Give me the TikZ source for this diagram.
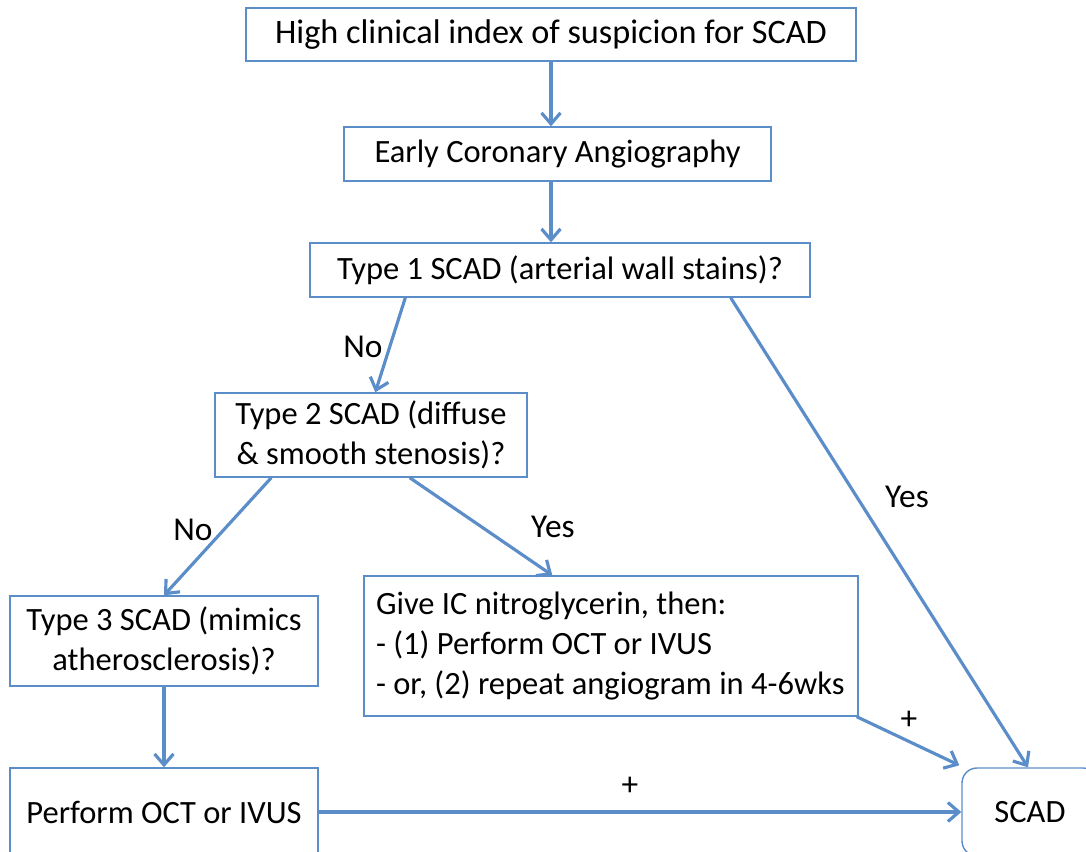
\documentclass[tikz,border=0pt]{standalone}
\usepackage{fontspec}
\setmainfont{Carlito}
\usepackage{tikz}
\usetikzlibrary{arrows.meta,positioning}
\definecolor{boxblue}{RGB}{91,141,201}
\tikzset{
  flowbox/.style={draw=boxblue, line width=0.8pt, inner sep=0pt, align=center, font=\fontsize{18.5}{22.5}\selectfont},
  flow/.style={draw=boxblue, line width=1.8pt, -{Straight Barb[length=0.22cm,width=0.38cm]}},
  lbl/.style={inner sep=0pt, font=\fontsize{19}{22}\selectfont}}

\begin{document}
\begin{tikzpicture}[x=0.02cm,y=-0.02cm]
\useasboundingbox (0,0) rectangle (1086,852);
\clip (0,0) rectangle (1086,852);
% boxes
\node[flowbox, font=\fontsize{19.5}{22.5}\selectfont, minimum width=12.2cm, minimum height=1.06cm] (high) at (551,34.5) {High clinical index of suspicion for SCAD};
\node[flowbox, minimum width=8.54cm, minimum height=1.08cm] (early) at (557.5,154) {Early Coronary Angiography};
\node[flowbox, minimum width=10cm, minimum height=1.08cm] (type1) at (560,270) {Type 1 SCAD (arterial wall stains)?};
\node[flowbox, minimum width=6.24cm, minimum height=1.68cm] (type2) at (371,435) {Type 2 SCAD (diffuse\\ \& smooth stenosis)?};
\node[flowbox, minimum width=6.16cm, minimum height=1.8cm] (type3) at (164,641) {Type 3 SCAD (mimics\\ atherosclerosis)?};
\node[flowbox, align=flush left, text width=9.4cm, minimum width=9.88cm, minimum height=2.8cm] (give) at (611,646) {Give IC nitroglycerin, then:\\- (1) Perform OCT or IVUS\\- or, (2) repeat angiogram in 4-6wks};
\node[flowbox, minimum width=6.16cm, minimum height=1.76cm] (perform) at (164,812) {Perform OCT or IVUS};
\node[flowbox, rounded corners=0.3cm, minimum width=2.72cm, minimum height=1.76cm] (scad) at (1030,812) {SCAD};

% connectors
\draw[flow] (high.south) -- (high.south |- early.north);
\draw[flow] (high.south |- early.south) -- (high.south |- type1.north);
\draw[flow] ([xshift=1.92cm]type1.south west) -- ([xshift=3.22cm]type2.north west);
\draw[flow] ([xshift=-1.6cm]type1.south east) -- ([xshift=-0.04cm]scad.north);
\draw[flow] ([xshift=1.14cm]type2.south west) -- (type3.north);
\draw[flow] ([xshift=-2.36cm]type2.south east) -- ([xshift=3.78cm]give.north west);
\draw[flow] (type3.south) -- (perform.north);
\draw[flow] ([xshift=-0.04cm]give.south east) -- ([xshift=-0.04cm,yshift=0.04cm]scad.north west);
\draw[flow] (perform.east) -- (scad.west);

% labels
\node[lbl] (no1) at (363,347) {No};
\node[lbl] (yes1) at (907,497) {Yes};
\node[lbl] (no2) at (193,530) {No};
\node[lbl] (yes2) at (553,527) {Yes};
\node[lbl] (plus1) at (909,720) {+};
\node[lbl] (plus2) at (630,786) {+};
\end{tikzpicture}
\end{document}
